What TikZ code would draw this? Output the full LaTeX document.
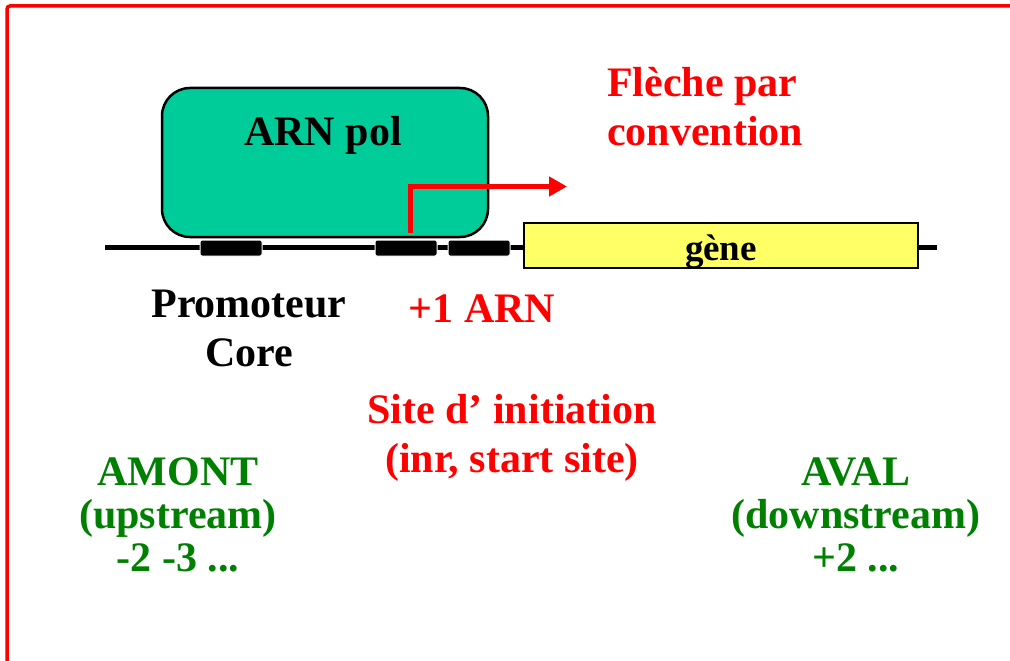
\documentclass[tikz,border=0pt]{standalone}
\usepackage{fontspec}
\setmainfont{Liberation Serif}
\usetikzlibrary{arrows.meta}

\definecolor{polgreen}{RGB}{0,204,153}
\definecolor{geneyellow}{RGB}{255,255,102}
\definecolor{labelgreen}{RGB}{0,128,0}

\tikzset{
  bigtext/.style={font={\fontsize{42}{49}\selectfont\bfseries}, inner sep=0pt, align=center},
  greentext/.style={bigtext, text=labelgreen, font={\fontsize{42}{43}\selectfont\bfseries}},
  blackbox/.style={fill=black, draw=white, line width=1pt, rounded corners=2pt,
                   minimum width=62pt, minimum height=16pt, inner sep=0pt}
}

\begin{document}
\begin{tikzpicture}[x=1pt, y=-1pt]

\useasboundingbox (0,0) rectangle (1010,661);

% frame
\draw [red, line width=3.5pt, rounded corners=3pt] (7,661) -- (7,6) -- (1010,6);

% DNA
\coordinate (dnaleft) at (105,247);
\coordinate (dnaright) at (937,247);
\draw [line width=5pt] (dnaleft) -- (dnaright);

\node [draw=black, line width=2.5pt, fill=polgreen, rounded corners=28pt,
minimum width=326pt, minimum height=149pt, inner sep=0pt] (pol) at (325,162.5) {};

\node [blackbox] (core1) at (231,248) {};
\node [blackbox] (core2) at (406,248) {};
\node [blackbox] (core3) at (479,248) {};

\node [draw=black, line width=2.5pt, fill=geneyellow, minimum width=394pt, minimum height=45pt,
inner sep=0pt] (gene) at (721,245.5) {};
\node [anchor=base, inner sep=0pt, font={\fontsize{37}{44}\selectfont\bfseries}] (genelabel)
 at (721,260) {gène};

% start site arrow
\coordinate (tss) at (410,233);
\coordinate (arrowend) at (567,186.5);
\draw [red, line width=5pt, -{Triangle[length=18pt, width=19pt]}] (tss) |- (arrowend);

\node [bigtext, anchor=base] (pollabel) at (323,145) {ARN pol};

% base = last line
\node [bigtext, text=red, align=left, anchor=base west] (fleche) at (607,145)
{Flèche par\\convention};

\node [bigtext, anchor=base] (promoteur) at (249,366) {Promoteur\\Core};

\node [bigtext, text=red, anchor=base] (plusone) at (482,322) {+1 ARN};

\node [bigtext, text=red, anchor=base] (site)
 at (512,472) {Site d’ initiation\\(inr, start site)};

\node [greentext, anchor=base] (amont) at (178,571) {AMONT\\(upstream)\\-2 -3 ...};

\node [greentext, anchor=base] (aval) at (856,571) {AVAL\\(downstream)\\+2 ...};

\end{tikzpicture}
\end{document}
